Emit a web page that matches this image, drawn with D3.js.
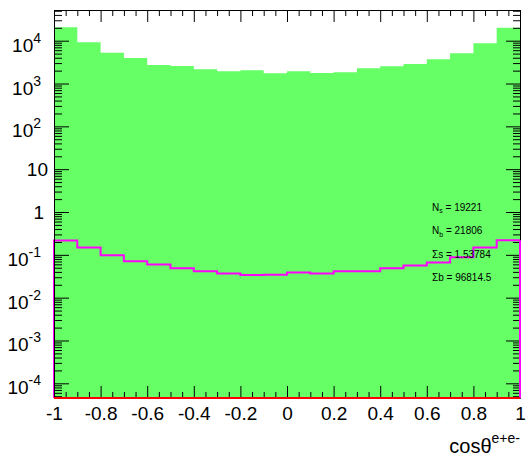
<!DOCTYPE html>
<html>
<head>
<meta charset="utf-8">
<title>cos theta e+e-</title>
<script src="https://d3js.org/d3.v7.min.js"></script>
<style>
  body { margin: 0; background: #fff; }
  svg text { font-family: "Liberation Sans", Arial, Helvetica, sans-serif; fill: #000; }
</style>
</head>
<body>
<div id="chart"></div>
<script>
// bin edges of cos(theta) histogram, 20 bins from -1 to 1
var binEdges = [-1, -0.9, -0.8, -0.7, -0.6, -0.5, -0.4, -0.3, -0.2, -0.1, 0,
                0.1, 0.2, 0.3, 0.4, 0.5, 0.6, 0.7, 0.8, 0.9, 1];
// background (green filled)
var bkgVals = [20550, 9180, 5250, 3950, 2700, 2560, 2150, 1930, 2030, 1730,
               1930, 1760, 1830, 2260, 2520, 2860, 3680, 5080, 8690, 20130];
// signal (magenta line)
var sigVals = [0.216, 0.148, 0.0984, 0.0712, 0.0593, 0.0489, 0.0416, 0.0366, 0.0336, 0.0341,
               0.0386, 0.0366, 0.0416, 0.0416, 0.0489, 0.0562, 0.0661, 0.0883, 0.148, 0.220];
// data (red line, empty)
var dataVals = [0, 0, 0, 0, 0, 0, 0, 0, 0, 0, 0, 0, 0, 0, 0, 0, 0, 0, 0, 0];

var xTicks = [-1, -0.8, -0.6, -0.4, -0.2, 0, 0.2, 0.4, 0.6, 0.8, 1];
var xTickLabels = ["-1", "-0.8", "-0.6", "-0.4", "-0.2", "0", "0.2", "0.4", "0.6", "0.8", "1"];
var yTicks = [1e-4, 1e-3, 1e-2, 1e-1, 1, 10, 1e2, 1e3, 1e4];
// [base, exponent] ; exponent "" means plain label
var yTickLabels = [["10", "-4"], ["10", "-3"], ["10", "-2"], ["10", "-1"], ["1", ""], ["10", ""],
                   ["10", "2"], ["10", "3"], ["10", "4"]];
var stats = [["N", "s", " = 19221"], ["N", "b", " = 21806"], ["\u03A3s", "", " = 1.53784"], ["\u03A3b", "", " = 96814.5"]];

var W = 527, H = 467;
var mL = 54, mR = 520, mT = 10, mB = 398;
var yMin = 4.54e-5, yMax = 5.21e4;

var svg = d3.select("#chart").append("svg")
    .attr("width", W).attr("height", H);

var x = d3.scaleLinear().domain([-1, 1]).range([mL, mR]);
var y = d3.scaleLog().domain([yMin, yMax]).range([mB, mT]);

// histogram step points
function steps(vals) {
    var pts = [];
    vals.forEach(function(v, i) {
        pts.push([binEdges[i], v]);
        pts.push([binEdges[i + 1], v]);
    });
    return pts;
}

// background fill
svg.append("path")
    .datum(steps(bkgVals))
    .attr("fill", "#66ff66")
    .attr("stroke", "none")
    .attr("d", d3.area()
        .x(function(d) { return x(d[0]); })
        .y0(mB)
        .y1(function(d) { return y(d[1]); }));

// signal line
var sigPts = [[-1, yMin]].concat(steps(sigVals)).concat([[1, yMin]]);
svg.append("path")
    .datum(sigPts)
    .attr("fill", "none")
    .attr("stroke", "#ff00ff")
    .attr("stroke-width", 2)
    .attr("d", d3.line()
        .x(function(d) { return x(d[0]); })
        .y(function(d) { return y(Math.max(d[1], yMin)); }));

// minor ticks lists
var xMinor = d3.range(-1, 1.0001, 0.05).filter(function(v) {
    return Math.abs(Math.round(v * 5) - v * 5) > 1e-6;
});
var yMinor = [];
for (var e = -5; e <= 4; e++) {
    for (var m = 2; m <= 9; m++) {
        var v = m * Math.pow(10, e);
        if (v >= yMin && v <= yMax) yMinor.push(v);
    }
}

var axisColor = "#000";
function styleAxis(g) {
    g.selectAll("path.domain").attr("stroke", axisColor).attr("stroke-width", 1);
    g.selectAll("line").attr("stroke", axisColor).attr("stroke-width", 1);
}

// bottom axis
var gB = svg.append("g").attr("transform", "translate(0," + mB + ")")
    .call(d3.axisBottom(x).tickValues(xTicks).tickSizeInner(-12).tickSizeOuter(0).tickPadding(8.5)
        .tickFormat(function(d, i) { return xTickLabels[i]; }));
gB.selectAll("text").style("font-size", "19px");
svg.append("g").attr("transform", "translate(0," + mB + ")")
    .call(d3.axisBottom(x).tickValues(xMinor).tickSizeInner(-6).tickSizeOuter(0).tickFormat(""))
    .call(function(g) { g.select(".domain").remove(); styleAxis(g); });
styleAxis(gB);

// top axis
svg.append("g").attr("transform", "translate(0," + mT + ")")
    .call(d3.axisTop(x).tickValues(xTicks).tickSizeInner(-12).tickSizeOuter(0).tickFormat(""))
    .call(styleAxis);
svg.append("g").attr("transform", "translate(0," + mT + ")")
    .call(d3.axisTop(x).tickValues(xMinor).tickSizeInner(-6).tickSizeOuter(0).tickFormat(""))
    .call(function(g) { g.select(".domain").remove(); styleAxis(g); });

// left axis
svg.append("g").attr("transform", "translate(" + mL + ",0)")
    .call(d3.axisLeft(y).tickValues(yTicks).tickSizeInner(-15).tickSizeOuter(0).tickFormat(""))
    .call(styleAxis);
svg.append("g").attr("transform", "translate(" + mL + ",0)")
    .call(d3.axisLeft(y).tickValues(yMinor).tickSizeInner(-8).tickSizeOuter(0).tickFormat(""))
    .call(function(g) { g.select(".domain").remove(); styleAxis(g); });

// right axis
svg.append("g").attr("transform", "translate(" + mR + ",0)")
    .call(d3.axisRight(y).tickValues(yTicks).tickSizeInner(-14).tickSizeOuter(0).tickFormat(""))
    .call(styleAxis);
svg.append("g").attr("transform", "translate(" + mR + ",0)")
    .call(d3.axisRight(y).tickValues(yMinor).tickSizeInner(-7).tickSizeOuter(0).tickFormat(""))
    .call(function(g) { g.select(".domain").remove(); styleAxis(g); });

// signal right edge drawn over the frame
svg.append("path")
    .datum([[1, sigVals[sigVals.length - 1]], [1, yMin]])
    .attr("fill", "none")
    .attr("stroke", "#ff00ff")
    .attr("stroke-width", 2)
    .attr("d", d3.line().x(function(d) { return x(d[0]); }).y(function(d) { return y(d[1]); }));

// data line (empty bins sit on the bottom edge)
svg.append("path")
    .datum(steps(dataVals))
    .attr("fill", "none")
    .attr("stroke", "#ff0000")
    .attr("stroke-width", 2)
    .attr("d", d3.line()
        .x(function(d) { return x(d[0]); })
        .y(function(d) { return y(Math.max(d[1], yMin)); }));

// y tick labels
yTicks.forEach(function(t, i) {
    var lab = yTickLabels[i];
    var yy = y(t);
    if (lab[1] === "") {
        svg.append("text")
            .attr("x", lab[0] === "1" ? 44 : 48)
            .attr("y", yy + 7)
            .attr("text-anchor", "end")
            .style("font-size", "19px")
            .text(lab[0]);
    } else {
        var tx = svg.append("text")
            .attr("x", 41)
            .attr("y", yy + 11)
            .attr("text-anchor", "end")
            .style("font-size", "19px");
        tx.append("tspan").text(lab[0]);
        tx.append("tspan").attr("dy", -9).style("font-size", "14px").text(lab[1]);
    }
});

// stats box text
stats.forEach(function(s, i) {
    var t = svg.append("text")
        .attr("x", 432)
        .attr("y", 210.5 + i * 23.5)
        .style("font-size", "10px");
    t.append("tspan").text(s[0]);
    if (s[1] !== "") t.append("tspan").attr("dy", 2.5).style("font-size", "7px").text(s[1]);
    t.append("tspan").attr("dy", s[1] !== "" ? -2.5 : 0).text(s[2]);
});

// x axis title
var xt = svg.append("text")
    .attr("x", 520)
    .attr("y", 453)
    .attr("text-anchor", "end")
    .style("font-size", "20px");
xt.append("tspan").text("cos\u03B8");
xt.append("tspan").attr("dy", -10).style("font-size", "14px").text("e+e-");
</script>
</body>
</html>
